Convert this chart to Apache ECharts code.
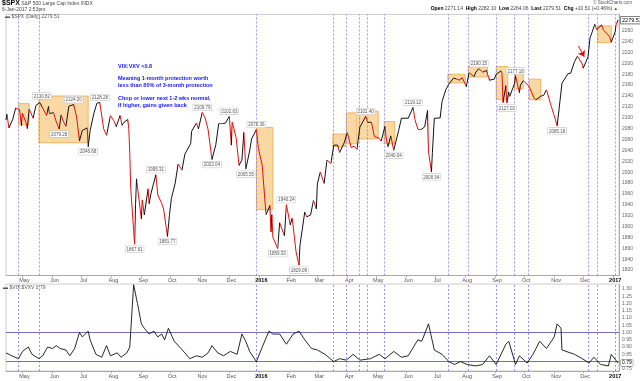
<!DOCTYPE html>
<html><head><meta charset="utf-8">
<script src="https://cdn.jsdelivr.net/npm/echarts@6/dist/echarts.min.js"></script>
<style>html,body{margin:0;padding:0;background:#fff}#c{width:640px;height:381px}</style>
</head><body><div id="c"></div>
<script>
// ---------- DATA ----------
const priceDates = [
'2015-04-14','2015-04-15','2015-04-17','2015-04-21','2015-04-24','2015-04-28','2015-04-30','2015-05-01','2015-05-05','2015-05-06','2015-05-08','2015-05-12','2015-05-15','2015-05-19','2015-05-21','2015-05-26','2015-05-28','2015-05-29',
'2015-06-02','2015-06-05','2015-06-08','2015-06-10','2015-06-12','2015-06-15','2015-06-18','2015-06-23','2015-06-26','2015-06-29','2015-07-02','2015-07-07','2015-07-08','2015-07-10','2015-07-14','2015-07-17','2015-07-20','2015-07-24','2015-07-27','2015-07-31',
'2015-08-04','2015-08-06','2015-08-10','2015-08-12','2015-08-14','2015-08-18','2015-08-19','2015-08-20','2015-08-21','2015-08-24','2015-08-25','2015-08-26','2015-08-27','2015-08-28',
'2015-09-01','2015-09-02','2015-09-04','2015-09-08','2015-09-09','2015-09-11','2015-09-16','2015-09-18','2015-09-22','2015-09-24','2015-09-25','2015-09-28','2015-09-30',
'2015-10-02','2015-10-06','2015-10-09','2015-10-13','2015-10-16','2015-10-22','2015-10-23','2015-10-28','2015-10-30',
'2015-11-03','2015-11-06','2015-11-09','2015-11-11','2015-11-13','2015-11-17','2015-11-20','2015-11-24','2015-11-27',
'2015-12-01','2015-12-03','2015-12-04','2015-12-08','2015-12-11','2015-12-14','2015-12-16','2015-12-18','2015-12-22','2015-12-24','2015-12-29','2015-12-31',
'2016-01-04','2016-01-07','2016-01-08','2016-01-12','2016-01-13','2016-01-14','2016-01-15','2016-01-20','2016-01-22','2016-01-27','2016-01-29',
'2016-02-02','2016-02-04','2016-02-08','2016-02-11','2016-02-12','2016-02-17','2016-02-19','2016-02-23','2016-02-26','2016-02-29',
'2016-03-01','2016-03-04','2016-03-08','2016-03-11','2016-03-15','2016-03-18','2016-03-22','2016-03-24','2016-03-29',
'2016-04-01','2016-04-05','2016-04-07','2016-04-08','2016-04-11','2016-04-14','2016-04-20','2016-04-22','2016-04-26','2016-04-29',
'2016-05-03','2016-05-06','2016-05-10','2016-05-11','2016-05-13','2016-05-16','2016-05-19','2016-05-24','2016-05-27',
'2016-06-03','2016-06-08','2016-06-10','2016-06-13','2016-06-16','2016-06-20','2016-06-23','2016-06-24','2016-06-27','2016-06-28','2016-06-30',
'2016-07-06','2016-07-08','2016-07-12','2016-07-15','2016-07-20','2016-07-22','2016-07-26','2016-07-29',
'2016-08-02','2016-08-05','2016-08-10','2016-08-12','2016-08-15','2016-08-19','2016-08-23','2016-08-26','2016-08-31',
'2016-09-02','2016-09-07','2016-09-08','2016-09-09','2016-09-12','2016-09-13','2016-09-15','2016-09-16','2016-09-21','2016-09-22','2016-09-26','2016-09-27','2016-09-30',
'2016-10-05','2016-10-07','2016-10-11','2016-10-13','2016-10-18','2016-10-21','2016-10-24','2016-10-28',
'2016-11-02','2016-11-04','2016-11-07','2016-11-09','2016-11-11','2016-11-15','2016-11-18','2016-11-22','2016-11-25','2016-11-30',
'2016-12-01','2016-12-06','2016-12-08','2016-12-13','2016-12-15','2016-12-20','2016-12-22','2016-12-28','2016-12-30',
'2017-01-03','2017-01-04','2017-01-05','2017-01-06'];
const priceValues = [
2095.84,2106.63,2081.18,2097.29,2117.69,2114.76,2085.51,2108.29,2089.46,2080.15,2116.10,2099.12,2122.73,2127.83,2130.82,2104.20,2120.79,2107.39,
2109.60,2092.83,2079.28,2105.20,2094.11,2084.43,2121.24,2124.20,2101.49,2057.64,2076.78,2081.34,2046.68,2076.62,2108.95,2126.64,2128.28,2079.65,2067.64,2103.84,
2093.32,2083.56,2104.18,2086.05,2091.54,2096.92,2079.61,2035.73,1970.89,1893.21,1867.61,1940.51,1987.66,1988.87,
1913.85,1948.86,1921.22,1969.41,1942.04,1961.05,1995.31,1958.03,1942.74,1932.24,1931.34,1881.77,1920.03,
1951.36,1979.92,2014.89,2003.69,2033.11,2052.51,2075.15,2090.35,2079.36,
2109.79,2099.20,2078.58,2075.00,2023.04,2050.44,2089.17,2089.14,2090.11,
2102.63,2049.62,2091.69,2063.59,2012.37,2021.94,2073.07,2005.55,2038.97,2060.99,2078.36,2043.94,
2012.66,1943.09,1922.03,1938.68,1890.28,1921.84,1880.33,1859.33,1906.90,1882.95,1940.24,
1903.03,1915.45,1853.44,1829.08,1864.78,1926.82,1917.78,1921.27,1948.05,1932.23,
1978.35,1999.99,1979.26,2022.19,2015.93,2049.58,2049.80,2035.94,2055.01,
2072.78,2045.17,2041.91,2047.60,2041.99,2082.78,2102.40,2091.58,2091.70,2065.30,
2063.37,2057.14,2084.39,2064.46,2046.61,2066.66,2040.04,2076.06,2099.06,
2099.13,2119.12,2096.07,2079.06,2077.99,2083.25,2113.32,2037.41,2000.54,2036.09,2098.86,
2099.73,2129.90,2152.14,2161.74,2173.02,2175.03,2169.18,2173.60,
2157.03,2182.87,2175.49,2184.05,2190.15,2183.87,2186.90,2169.04,2170.95,
2179.98,2186.16,2181.30,2127.81,2159.04,2127.02,2147.26,2139.16,2163.12,2177.18,2146.10,2159.93,2168.27,
2159.73,2153.74,2136.73,2132.98,2139.60,2141.16,2151.33,2126.41,
2097.94,2085.18,2131.52,2163.26,2164.45,2180.39,2181.90,2202.94,2213.35,2198.81,
2191.08,2212.23,2246.19,2271.72,2262.03,2270.76,2260.96,2249.92,2238.83,
2257.83,2270.75,2269.00,2279.51];

const ratioDates = [
'2015-04-14','2015-04-20','2015-04-27','2015-05-01','2015-05-07','2015-05-11','2015-05-18','2015-05-22','2015-05-27','2015-06-01','2015-06-05','2015-06-09','2015-06-15','2015-06-19','2015-06-24','2015-06-29','2015-07-02','2015-07-08','2015-07-10','2015-07-16','2015-07-22','2015-07-27','2015-07-31',
'2015-08-07','2015-08-11','2015-08-17','2015-08-20','2015-08-24','2015-08-28','2015-09-01','2015-09-04','2015-09-09','2015-09-14','2015-09-18','2015-09-22','2015-09-25','2015-09-29','2015-10-05','2015-10-12','2015-10-16','2015-10-21','2015-10-28',
'2015-11-03','2015-11-09','2015-11-13','2015-11-19','2015-11-25','2015-12-02','2015-12-09','2015-12-14','2015-12-18','2015-12-22','2015-12-29',
'2016-01-04','2016-01-11','2016-01-15','2016-01-22','2016-01-29','2016-02-05','2016-02-11','2016-02-17','2016-02-24','2016-03-01','2016-03-09','2016-03-18','2016-03-24','2016-03-31',
'2016-04-07','2016-04-14','2016-04-25','2016-05-04','2016-05-10','2016-05-19','2016-05-27','2016-06-03','2016-06-13','2016-06-17','2016-06-24','2016-06-30','2016-07-08','2016-07-15','2016-07-21','2016-07-27',
'2016-08-03','2016-08-12','2016-08-19','2016-08-26','2016-09-02','2016-09-12','2016-09-15','2016-09-22','2016-09-26','2016-10-04','2016-10-10','2016-10-17','2016-10-24',
'2016-11-01','2016-11-04','2016-11-08','2016-11-09','2016-11-22','2016-11-30','2016-12-07','2016-12-12','2016-12-19','2016-12-27','2016-12-30','2017-01-06'];
const ratioValues = [
0.86,0.84,0.82,0.87,0.90,0.85,0.82,0.84,0.90,0.89,0.91,0.89,0.88,0.84,0.89,1.00,0.97,1.01,0.95,0.85,0.83,0.91,0.84,
0.86,0.83,0.86,0.90,1.33,1.20,1.06,1.03,0.99,1.01,0.97,0.99,0.95,1.03,0.94,0.89,0.86,0.82,0.84,
0.83,0.86,0.91,0.86,0.84,0.87,0.85,0.99,0.94,0.87,0.80,
0.90,1.01,0.99,0.99,0.92,0.99,1.01,0.95,0.89,0.88,0.85,0.80,0.82,0.81,
0.85,0.81,0.82,0.85,0.82,0.87,0.83,0.84,0.95,0.94,1.06,0.88,0.85,0.80,0.78,0.80,
0.78,0.77,0.78,0.84,0.78,0.92,0.94,0.78,0.84,0.79,0.85,0.94,0.89,
0.97,1.06,1.03,0.88,0.85,0.82,0.79,0.83,0.78,0.77,0.85,0.79];

// orange boxes: [start, end, low, high]
const boxes = [
['2015-04-27','2015-05-08',2087,2126],
['2015-05-18','2015-07-08',2054,2140],
['2015-12-29','2016-01-15',1931,2082],
['2016-03-17','2016-03-30',2047,2070],
['2016-03-31','2016-04-11',2052,2109],
['2016-04-13','2016-05-03',2061,2112],
['2016-05-09','2016-05-20',2052,2093],
['2016-07-14','2016-08-01',2164,2180],
['2016-08-04','2016-08-24',2175,2194],
['2016-09-02','2016-09-14',2133,2194],
['2016-09-21','2016-09-30',2153,2183],
['2016-10-06','2016-10-18',2133,2171],
['2016-12-16','2016-12-30',2238,2269]];

// dashed vertical marker dates
const vlineDates = ['2015-04-27','2015-05-18','2015-12-29','2016-03-17','2016-03-31','2016-04-13','2016-04-22','2016-05-09',
'2016-07-14','2016-08-04','2016-09-02','2016-09-21','2016-10-05','2016-12-06','2016-12-16','2017-01-03'];

// price tags: [date, value, side]
const priceTags = [
['2015-05-21',2130.82,'top'],['2015-06-23',2124.20,'top'],['2015-06-08',2079.28,'bottom'],['2015-07-08',2046.68,'bottom'],
['2015-07-20',2128.28,'top'],['2015-08-25',1867.61,'bottom'],['2015-09-16',1995.31,'top'],['2015-09-28',1881.77,'bottom'],
['2015-11-03',2109.79,'top'],['2015-11-13',2023.04,'bottom'],['2015-12-01',2102.63,'top'],['2015-12-18',2005.55,'bottom'],
['2015-12-29',2078.36,'top'],['2016-01-20',1859.33,'bottom'],['2016-01-29',1940.24,'top'],['2016-02-11',1829.08,'bottom'],
['2016-04-20',2102.40,'top'],['2016-05-19',2040.04,'bottom'],['2016-06-08',2119.12,'top'],['2016-06-27',2000.54,'bottom'],
['2016-08-15',2190.15,'top'],['2016-09-13',2127.02,'bottom'],['2016-09-22',2177.18,'top'],['2016-11-04',2085.18,'bottom']];

const arrowFrom = ['2016-11-26',2232];
const arrowTo = ['2016-12-02',2212];
const ratioLevels = [1.00, 0.80];
const monthNames = ['Jan','Feb','Mar','Apr','May','Jun','Jul','Aug','Sep','Oct','Nov','Dec'];

// ---------- CHART ----------
function ts(s){const p=s.split('-').map(Number);return new Date(p[0],p[1]-1,p[2]).getTime();}
const FONT = '"Liberation Sans", Arial, sans-serif';
const priceData = priceDates.map((d,i)=>[ts(d),priceValues[i]]);
const ratioData = ratioDates.map((d,i)=>[ts(d),ratioValues[i]]);
const downPieces = [];
for (let i=1;i<priceValues.length;i++){
  if (priceValues[i] < priceValues[i-1]) downPieces.push({gte: ts(priceDates[i-1]), lte: ts(priceDates[i]), color:'#d11'});
}
const xMin = ts('2015-04-14'), xMax = ts('2017-01-07');
function monthLabel(v){
  const d = new Date(v);
  if (d.getDate() !== 1) return '';
  if (d.getMonth() === 0) return '{y|' + d.getFullYear() + '}';
  return monthNames[d.getMonth()];
}
function xAxisDef(gi){
  return {type:'time', gridIndex:gi, min:xMin, max:xMax, splitNumber:21,
    axisLine:{show:true, lineStyle:{color:'#aaa', width:1}},
    axisTick:{show:true, length:2, lineStyle:{color:'#aaa'}},
    splitLine:{show:false},
    axisLabel:{formatter:monthLabel, showMinLabel:false, showMaxLabel:false, fontSize:5.5, color:'#555', fontFamily:FONT, margin:2, align:'center', padding:[0,0,0,4],
      rich:{y:{fontSize:5.5, fontWeight:'bold', color:'#000', fontFamily:FONT}}}
  };
}
const vlineStyle = {color:'#7c7cff', type:[2,2], width:0.8};
const chart = echarts.init(document.getElementById('c'), null, {renderer:'canvas'});
chart.setOption({
  animation:false,
  backgroundColor:'#fff',
  grid:[
    {left:6, right:21, top:14.4, height:261.1, show:true, borderColor:'#ccc', borderWidth:1},
    {left:6, right:21, top:284, height:87, show:true, borderColor:'#ccc', borderWidth:1}
  ],
  xAxis:[xAxisDef(0), xAxisDef(1)],
  yAxis:[
    {type:'value', gridIndex:0, position:'right', min:1810, max:2290, interval:10, splitLine:{show:false},
     axisLine:{show:true, lineStyle:{color:'#aaa'}}, axisTick:{show:false},
     axisLabel:{fontSize:5, color:'#666', fontFamily:FONT, margin:3,
       formatter:v=> (v%20===0 && v>=1820 && v<=2260) ? String(v) : ''}},
    {type:'value', gridIndex:1, position:'right', min:0.735, max:1.335, interval:0.005, splitLine:{show:false},
     axisLine:{show:true, lineStyle:{color:'#aaa'}}, axisTick:{show:false},
     axisLabel:{fontSize:5, color:'#666', fontFamily:FONT, margin:3,
       formatter:v=>{const k=Math.round(v*1000);return (k%50===0 && k>=750 && k<=1300)?(k/1000).toFixed(2):'';}}}
  ],
  visualMap:[{type:'piecewise', show:false, seriesIndex:0, dimension:0, pieces:downPieces, outOfRange:{color:'#111'}}],
  series:[
    {type:'line', xAxisIndex:0, yAxisIndex:0, data:priceData, showSymbol:false, symbol:'none',
     lineStyle:{width:1}, z:5,
     endLabel:{show:true, formatter:()=>priceValues[priceValues.length-1].toFixed(2), fontSize:5.5, color:'#000', fontFamily:FONT,
       backgroundColor:'#fff', borderColor:'#333', borderWidth:0.6, padding:[1,1,0,1], distance:3},
     markArea:{silent:true, itemStyle:{color:'rgba(245,180,80,0.52)', borderColor:'rgba(236,150,40,0.8)', borderWidth:0.8},
       data: boxes.map(b=>[{coord:[ts(b[0]), b[3]]},{coord:[ts(b[1]), b[2]]}])},
     markLine:{silent:true, symbol:'none', animation:false, label:{show:false}, lineStyle:vlineStyle,
       data: vlineDates.map(d=>({xAxis:ts(d)})).concat([[
         {coord:[ts(arrowFrom[0]),arrowFrom[1]], symbol:'none', lineStyle:{color:'#e00', type:'solid', width:1}},
         {coord:[ts(arrowTo[0]),arrowTo[1]], symbol:'arrow', symbolSize:6}
       ]])},
     markPoint:{silent:true, symbol:'circle', symbolSize:0,
       data: priceTags.map(t=>({coord:[ts(t[0]),t[1]], value:t[1],
         label:{show:true, position:t[2], distance:2, formatter:t[1].toFixed(2), fontSize:4.5, color:'#555', fontFamily:FONT,
           backgroundColor:'#fff', borderColor:'#bbb', borderWidth:0.5, padding:[1,1,0,1]}}))}
    },
    {type:'line', xAxisIndex:1, yAxisIndex:1, data:ratioData, showSymbol:false, symbol:'none',
     lineStyle:{color:'#111', width:0.9}, itemStyle:{color:'#111'}, z:5,
     endLabel:{show:true, formatter:()=>ratioValues[ratioValues.length-1].toFixed(2), fontSize:5, color:'#000', fontFamily:FONT,
       backgroundColor:'#fff', borderColor:'#666', borderWidth:0.5, padding:[1,1,0,1], distance:3},
     markLine:{silent:true, symbol:'none', label:{show:false},
       data: vlineDates.map(d=>({xAxis:ts(d), lineStyle:vlineStyle}))
         .concat(ratioLevels.map(v=>({yAxis:v, lineStyle:{color:'#6f6fc0', type:'solid', width:1}})))}
    }
  ],
  graphic:[
    {type:'text', left:2, top:0, style:{text:'{b|$SPX} S&P 500 Large Cap Index INDX', fill:'#444', font:'5px '+FONT,
      rich:{b:{fontSize:7, fontWeight:'bold', fill:'#000', fontFamily:FONT}}}},
    {type:'text', left:2, top:7, style:{text:'6-Jan-2017 2:53pm', fill:'#444', font:'5px '+FONT}},
    {type:'text', right:8, top:0, style:{text:'© StockCharts.com', fill:'#555', font:'4.5px '+FONT}},
    {type:'text', right:22, top:6.5, style:{text:'{b|Open} 2271.14  {b|High} 2282.10  {b|Low} 2264.06  {b|Last} 2279.51  {b|Chg} +10.51 (+0.46%) {g|▲}', fill:'#444', font:'5px '+FONT,
      rich:{b:{fontWeight:'bold', fontSize:5, fill:'#000', fontFamily:FONT}, g:{fontSize:4.5, fill:'#080'}}}},
    {type:'text', left:5, top:14, z:10, style:{text:'▬ $SPX (Daily) 2279.51', fill:'#555', font:'5px '+FONT}},
    {type:'text', left:3, top:285.5, z:10, style:{text:'▬ $VIX:$VXV 0.79', fill:'#555', font:'5px '+FONT}},
    {type:'text', left:118, top:63.5, z:10, style:{text:'VIX:VXV <0.8', fill:'#1515ff', font:'bold 5.5px '+FONT}},
    {type:'text', left:118, top:75.5, z:10, style:{text:'Meaning 1-month protection worth\nless than 80% of 3-month protection', fill:'#1515ff', font:'bold 5.5px '+FONT, lineHeight:6.6}},
    {type:'text', left:118, top:95.5, z:10, style:{text:'Chop or lower next 1-2 wks normal,\nIf higher, gains given back', fill:'#1515ff', font:'bold 5.5px '+FONT, lineHeight:6.6}}
  ]
});
</script></body></html>
